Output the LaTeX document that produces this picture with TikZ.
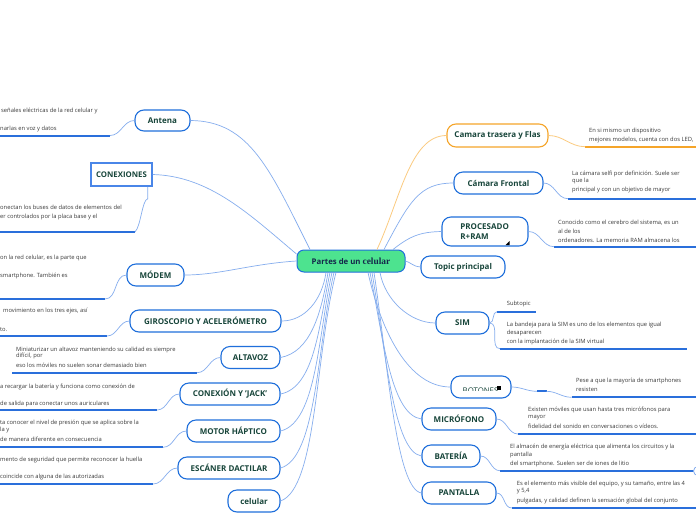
\documentclass[tikz,border=0pt]{standalone}
\usepackage{fontspec}
\setmainfont{Open Sans}
\newfontfamily\celfont{Liberation Serif}
\usetikzlibrary{calc}
\definecolor{nodeblue}{HTML}{1F6FDB}
\definecolor{conblue}{HTML}{86AEEE}
\definecolor{ulblue}{HTML}{2A6FDB}
\definecolor{txtgreen}{HTML}{17453A}
\definecolor{desc}{HTML}{3A3A3A}
\definecolor{orng}{HTML}{F5A52A}
\definecolor{lorng}{HTML}{FBCB80}
\definecolor{cgreen}{HTML}{4DE38F}
\definecolor{cnavy}{HTML}{14284B}
\definecolor{rectblue}{HTML}{4A86E8}
\begin{document}
\begin{tikzpicture}[x=1pt,y=-1pt,
 topic/.style={draw=nodeblue, line width=1.1pt, fill=white, rounded corners=9pt, minimum height=22pt, inner sep=0pt, font=\fontsize{8}{9.5}\selectfont\bfseries, text=txtgreen},
 conn/.style={draw=conblue, line width=0.7pt},
 oconn/.style={draw=lorng, line width=0.8pt},
 uline/.style={draw=ulblue, line width=2pt},
 ouline/.style={draw=orng, line width=2pt},
 dtext/.style={anchor=base west, inner sep=0pt, font=\fontsize{5.8}{6.5}\selectfont, text=desc},
]
\useasboundingbox (0,0) rectangle (696,520);
\clip (0,0) rectangle (696,520);
\fill[white] (0,0) rectangle (696,520);

% ---------- nodes ----------
\node[draw=nodeblue, line width=1pt, fill=cgreen, rounded corners=7pt, minimum width=108pt, minimum height=22pt, inner sep=0pt] (c) at (351,261)
 {\fontsize{7.8}{9}\selectfont\bfseries\color{cnavy}Partes de un {\celfont\bfseries\fontsize{9.4}{9}\selectfont celular}};

\node[topic, minimum width=55pt, minimum height=21pt] (antena) at (162.5,120.5) {Antena};
\node[draw=rectblue, line width=1.5pt, fill=white, minimum width=61pt, minimum height=23pt, inner sep=0pt, font=\fontsize{7.8}{9}\selectfont\bfseries, text=txtgreen] (conex) at (121.5,174.5) {CONEXIONES};
\node[topic, minimum width=57pt] (modem) at (155.5,275) {MÓDEM};
\node[topic, minimum width=151pt] (giro) at (205.5,321) {GIROSCOPIO Y ACELERÓMETRO};
\node[topic, minimum width=59pt] (altavoz) at (250.5,357.5) {ALTAVOZ};
\node[topic, minimum width=100pt] (jack) at (230,394) {CONEXIÓN Y 'JACK'};
\node[topic, minimum width=93pt] (motor) at (233.5,431) {MOTOR HÁPTICO};
\node[topic, minimum width=102pt] (escaner) at (229,468) {ESCÁNER DACTILAR};
\node[topic, minimum width=52pt] (celular) at (254,501) {celular};

\node[topic, draw=orng, minimum width=101pt, minimum height=23pt] (trasera) at (497.5,135.5) {Camara trasera y Flas};
\node[topic, minimum width=89pt] (frontal) at (498.5,183) {Cámara Frontal};
\node[topic, minimum width=86pt, minimum height=29pt, align=left] (proc) at (485,231.5) {PROCESADO\\R+RAM\hspace*{21pt}};
\fill[black] (505.5,245) -- (509.5,245) -- (509.5,241) -- cycle;
\node[topic, minimum width=84pt] (topicp) at (463,267) {Topic principal};
\node[topic, minimum width=53pt] (sim) at (462.5,323) {SIM};
\node[topic, minimum width=60pt] (botones) at (481,387) {};
\begin{scope}
\clip (452,376) rectangle (510,390.8);
\node[inner sep=0pt, anchor=base west, font=\fontsize{7.8}{9}\selectfont, text=txtgreen] (botlabel) at (462.5,393.5) {BOTONES};
\end{scope}
\fill[black] (496.5,385.5) rectangle (501,390);
\node[topic, minimum width=74pt] (micro) at (459,419) {MICRÓFONO};
\node[topic, minimum width=58pt] (bateria) at (451,456) {BATERÍA};
\node[topic, minimum width=74pt] (pantalla) at (459,493) {PANTALLA};

% ---------- main connectors ----------
\draw[conn] ([xshift=-41pt]c.north) .. controls (270,170) and (250,121) .. (antena.east);
\draw[conn] ([yshift=7pt]c.west) .. controls (250,215) and (210,176) .. (conex.east);
\draw[conn] (c.west) .. controls (250,264) and (220,275) .. (modem.east);
\draw[conn] ([xshift=-25pt]c.south) .. controls (322,300) and (305,321) .. (giro.east);
\draw[conn] ([xshift=-23pt]c.south) .. controls (321,315) and (310,352) .. (altavoz.east);
\draw[conn] ([xshift=-21pt]c.south) .. controls (319,325) and (315,387) .. (jack.east);
\draw[conn] ([xshift=-19pt]c.south) .. controls (318,335) and (317,422) .. (motor.east);
\draw[conn] ([xshift=-17pt]c.south) .. controls (317,345) and (317,458) .. (escaner.east);
\draw[conn] ([xshift=-15pt]c.south) .. controls (315,355) and (317,488) .. (celular.east);

\draw[oconn] ([xshift=26pt]c.north) .. controls (400,200) and (410,135.5) .. (trasera.west);
\draw[conn] ([xshift=33pt]c.north) .. controls (410,200) and (420,183) .. (frontal.west);
\draw[conn] ([xshift=42pt]c.north) .. controls (410,236) and (420,232) .. (proc.west);
\draw[conn] (c.east) .. controls (410,262) and (414,267) .. (topicp.west);
\draw[conn] ([xshift=29pt]c.south) .. controls (385,300) and (410,323) .. (sim.west);
\draw[conn] ([xshift=17pt]c.south) .. controls (382,335) and (410,387) .. (botones.west);
\draw[conn] ([xshift=19pt]c.south) .. controls (384,345) and (392,415) .. (micro.west);
\draw[conn] ([xshift=21pt]c.south) .. controls (386,355) and (394,452) .. (bateria.west);
\draw[conn] ([xshift=23pt]c.south) .. controls (388,365) and (396,489) .. (pantalla.west);

% ---------- left descriptions ----------
\coordinate (aU) at (110,135.5);
\draw[uline] (0,135.5) -- (aU);
\draw[conn] (antena.west) to[out=180,in=0] (aU);
\node[dtext] (a1) at (1,112.5) {señales eléctricas de la red celular y};
\node[dtext] (a2) at (0,130) {narlas en voz y datos};

\coordinate (cU) at (135,232);
\draw[uline] (0,232) -- (cU);
\draw[conn] (conex.south east) ++(-5,0) coordinate (cS) -- ++(0,12) .. controls (142,200) and (141,226) .. (cU);
\node[dtext] (c1) at (0,209) {onectan los buses de datos de elementos del};
\node[dtext] (c2) at (0,218) {er controlados por la placa base y el};

\coordinate (mU) at (105,299);
\draw[uline] (0,299) -- (mU);
\draw[conn] (modem.west) to[out=180,in=0] (mU);
\node[dtext] (m1) at (0,259.5) {on la red celular, es la parte que};
\node[dtext] (m2) at (0,277) {smartphone. También es};

\coordinate (gU) at (107,336);
\draw[uline] (0,336) -- (gU);
\draw[conn] (giro.west) to[out=180,in=0] (gU);
\node[dtext] (g1) at (3,312.5) {movimiento en los tres ejes, así};
\node[dtext] (g2) at (0,331) {to.};

\coordinate (lU) at (197,372.7);
\draw[uline] (12,372.7) -- (lU);
\draw[conn] (altavoz.west) to[out=180,in=0] (lU);
\node[dtext] (l1) at (16,351) {Miniaturizar un altavoz manteniendo su calidad es siempre};
\node[dtext] (l2) at (16,357.5) {difícil, por};
\node[dtext] (l3) at (16,367.5) {eso los móviles no suelen sonar demasiado bien};

\coordinate (jU) at (157,410);
\draw[uline] (0,410) -- (jU);
\draw[conn] (jack.west) to[out=180,in=0] (jU);
\node[dtext] (j1) at (0,388) {a recargar la batería y funciona como conexión de};
\node[dtext] (j2) at (0,405) {de salida para conectar unos auriculares};

\coordinate (hU) at (163,447.3);
\draw[uline] (0,447.3) -- (hU);
\draw[conn] (motor.west) to[out=180,in=0] (hU);
\node[dtext] (h1) at (0,424.5) {ta conocer el nivel de presión que se aplica sobre la};
\node[dtext] (h2) at (0,431) {la y};
\node[dtext] (h3) at (0,441.5) {de manera diferente en consecuencia};

\coordinate (eU) at (153,484);
\draw[uline] (0,484) -- (eU);
\draw[conn] (escaner.west) to[out=180,in=0] (eU);
\node[dtext] (e1) at (0,461.5) {mento de seguridad que permite reconocer la huella};
\node[dtext] (e2) at (0,478.5) {coincide con alguna de las autorizadas};

% ---------- right descriptions ----------
\coordinate (tU) at (585,146.7);
\draw[ouline] (tU) -- (696,146.7);
\draw[oconn] (trasera.east) to[out=0,in=180] (tU);
\node[dtext] (t1) at (589,132.5) {En si mismo un dispositivo};
\node[dtext] (t2) at (589,141) {mejores modelos, cuenta con dos LED,};

\coordinate (fU) at (568,198.7);
\draw[uline] (fU) -- (696,198.7);
\draw[conn] (frontal.east) to[out=0,in=180] (fU);
\node[dtext] (f1) at (572,175) {La cámara selfi por definición. Suele ser};
\node[dtext] (f2) at (572,182.5) {que la};
\node[dtext] (f3) at (572,191) {principal y con un objetivo de mayor};

\coordinate (pU) at (554,246.7);
\draw[uline] (pU) -- (696,246.7);
\draw[conn] (proc.east) to[out=0,in=180] (pU);
\node[dtext] (p1) at (558,224.5) {Conocido como el cerebro del sistema, es un};
\node[dtext] (p2) at (558,233.5) {al de los};
\node[dtext] (p3) at (558,242) {ordenadores. La memoria RAM almacena los};

\coordinate (sU1) at (497,311.7);
\coordinate (sU2) at (500,348.7);
\draw[uline] (sU1) -- (536,311.7);
\draw[uline] (sU2) -- (687,348.7);
\draw[conn] (sim.east) to[out=0,in=180] (sU1);
\draw[conn] (sim.east) to[out=0,in=180] (sU2);
\node[dtext] (s0) at (506.7,305) {Subtopic};
\node[dtext] (s1) at (506.7,326) {La bandeja para la SIM es uno de los elementos que igual};
\node[dtext] (s2) at (506.7,334.5) {desaparecen};
\node[dtext] (s3) at (506.7,343) {con la implantación de la SIM virtual};

\coordinate (bM1) at (537,391.3);
\coordinate (bM2) at (546.5,391.3);
\coordinate (bU) at (571.7,397.3);
\draw[uline] (bU) -- (696,397.3);
\draw[conn] (botones.east) to[out=0,in=180] (bM1);
\draw[uline] (bM1) -- (bM2);
\draw[conn] (bM2) to[out=0,in=180] (bU);
\node[dtext] (b1) at (576,382.5) {Pese a que la mayoría de smartphones};
\node[dtext] (b2) at (576,391) {resisten};

\coordinate (oU) at (518,434);
\draw[uline] (oU) -- (696,434);
\draw[conn] (micro.east) to[out=0,in=180] (oU);
\node[dtext] (o1) at (528,411) {Existen móviles que usan hasta tres micrófonos para};
\node[dtext] (o2) at (528,418.5) {mayor};
\node[dtext] (o3) at (528,428.5) {fidelidad del sonido en conversaciones o vídeos.};

\coordinate (rU) at (500,470.7);
\draw[uline] (rU) -- (696,470.7);
\draw[conn] (bateria.east) to[out=0,in=180] (rU);
\node[dtext] (r1) at (510,448.5) {El almacén de energía eléctrica que alimenta los circuitos y la};
\node[dtext] (r2) at (510,456) {pantalla};
\node[dtext] (r3) at (510,465.5) {del smartphone. Suelen ser de iones de litio};
\node[draw=conblue, line width=0.8pt, fill=white, circle, minimum size=9pt, inner sep=0pt] (rdot) at (698,471) {};

\coordinate (nU) at (511.7,508);
\draw[uline] (nU) -- (696,508);
\draw[conn] (pantalla.east) to[out=0,in=180] (nU);
\node[dtext] (n1) at (516.7,485) {Es el elemento más visible del equipo, y su tamaño, entre las 4};
\node[dtext] (n2) at (516.7,492.5) {y 5,4};
\node[dtext] (n3) at (516.7,502.5) {pulgadas, y calidad definen la sensación global del conjunto};
\end{tikzpicture}
\end{document}
